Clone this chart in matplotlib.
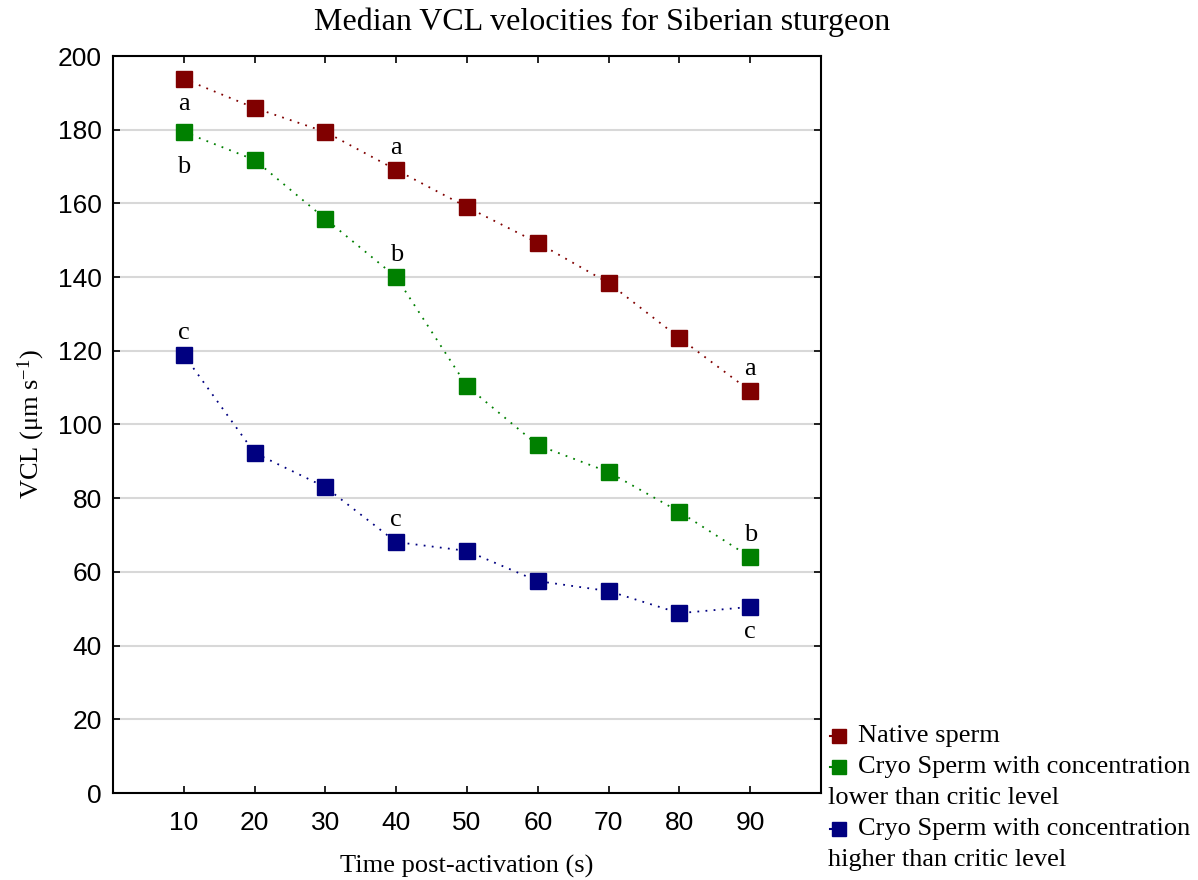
import matplotlib
matplotlib.use("Agg")
import matplotlib.pyplot as plt
from matplotlib.lines import Line2D
import numpy as np

time_s = [10, 20, 30, 40, 50, 60, 70, 80, 90]
native = [193.8, 185.9, 179.4, 169.1, 159.0, 149.3, 138.4, 123.5, 109.1]
cryo_low = [179.4, 171.8, 155.8, 140.0, 110.4, 94.4, 87.1, 76.3, 64.0]
cryo_high = [118.9, 92.3, 83.0, 68.1, 65.7, 57.5, 54.8, 48.8, 50.5]

series_names = ["Native sperm",
                "Cryo Sperm with concentration",
                "Cryo Sperm with concentration"]
series_second_lines = ["", "lower than critic level", "higher than critic level"]
colors = ["#800000", "#008000", "#000080"]

# significance letters: (series index, time index, letter)
letters = [(0, 0, "a"), (1, 0, "b"), (0, 3, "a"),
           (1, 3, "b"), (2, 0, "c"), (2, 3, "c"),
           (0, 8, "a"), (1, 8, "b"), (2, 8, "c")]
letter_offsets = [-18, -25, 16, 16, 16, 16, 16, 16, -18]

serif = ["Liberation Serif", "DejaVu Serif"]
sans = ["Liberation Sans", "DejaVu Sans"]
plt.rcParams["mathtext.fontset"] = "custom"
plt.rcParams["mathtext.rm"] = "Liberation Serif"
plt.rcParams["mathtext.it"] = "Liberation Serif:italic"

fig = plt.figure(figsize=(11.98, 8.8), dpi=100)
ax = fig.add_axes([113/1198, 1-793/880, (821-113)/1198, (793-56)/880])

data = [native, cryo_low, cryo_high]
for vals, c in zip(data, colors):
    ax.plot(time_s, vals, linestyle=(0, (1, 3.5)), lw=1.3, color=c,
            marker="s", markersize=11, markerfacecolor=c, markeredgecolor=c,
            zorder=3)

for (si, ti, lab), off in zip(letters, letter_offsets):
    ax.annotate(lab, (time_s[ti], data[si][ti]), xytext=(0, off),
                textcoords="offset points", ha="center", va="center",
                fontsize=19, family=serif)

ax.set_xlim(0, 100)
ax.set_ylim(0, 200)
ax.set_xticks(time_s)
ax.set_yticks(np.arange(0, 201, 20))
ax.yaxis.grid(True, color="#d8d8d8", lw=1.5)
ax.set_axisbelow(True)
for sp in ax.spines.values():
    sp.set_linewidth(1.5)
ax.tick_params(direction="in", top=True, right=True, length=5, width=1.2,
               labelsize=19)
ax.tick_params(axis="x", pad=13)
ax.tick_params(axis="y", pad=8)
for t in ax.get_xticklabels() + ax.get_yticklabels():
    t.set_family(sans)

ax.set_xlabel("Time post-activation (s)", fontsize=19, family=serif, labelpad=14)
ax.set_ylabel("VCL (μm s$^{\\mathrm{-1}}$)", fontsize=19, family=serif, labelpad=8)

fig.text(0.503, 1-22/880, "Median VCL velocities for Siberian sturgeon",
         ha="center", va="center", fontsize=23, family=serif)

# legend drawn manually (text wraps back under the marker)
W, H = 1198, 880
entry_y = {0: 736, 1: 767, 2: 829}
for i in range(3):
    y = 1 - entry_y[i]/H
    fig.add_artist(Line2D([830/W, 832/W], [y, y], color=colors[i], lw=1.5,
                          transform=fig.transFigure))
    fig.add_artist(Line2D([839/W], [y], marker="s", markersize=10.5,
                          color=colors[i], transform=fig.transFigure))
    fig.text(858/W, y, series_names[i], ha="left", va="center",
             fontsize=19, family=serif)
    if series_second_lines[i]:
        fig.text(828/W, y - 31/H, series_second_lines[i], ha="left",
                 va="center", fontsize=19, family=serif)

fig.savefig("out.png", dpi=100)
